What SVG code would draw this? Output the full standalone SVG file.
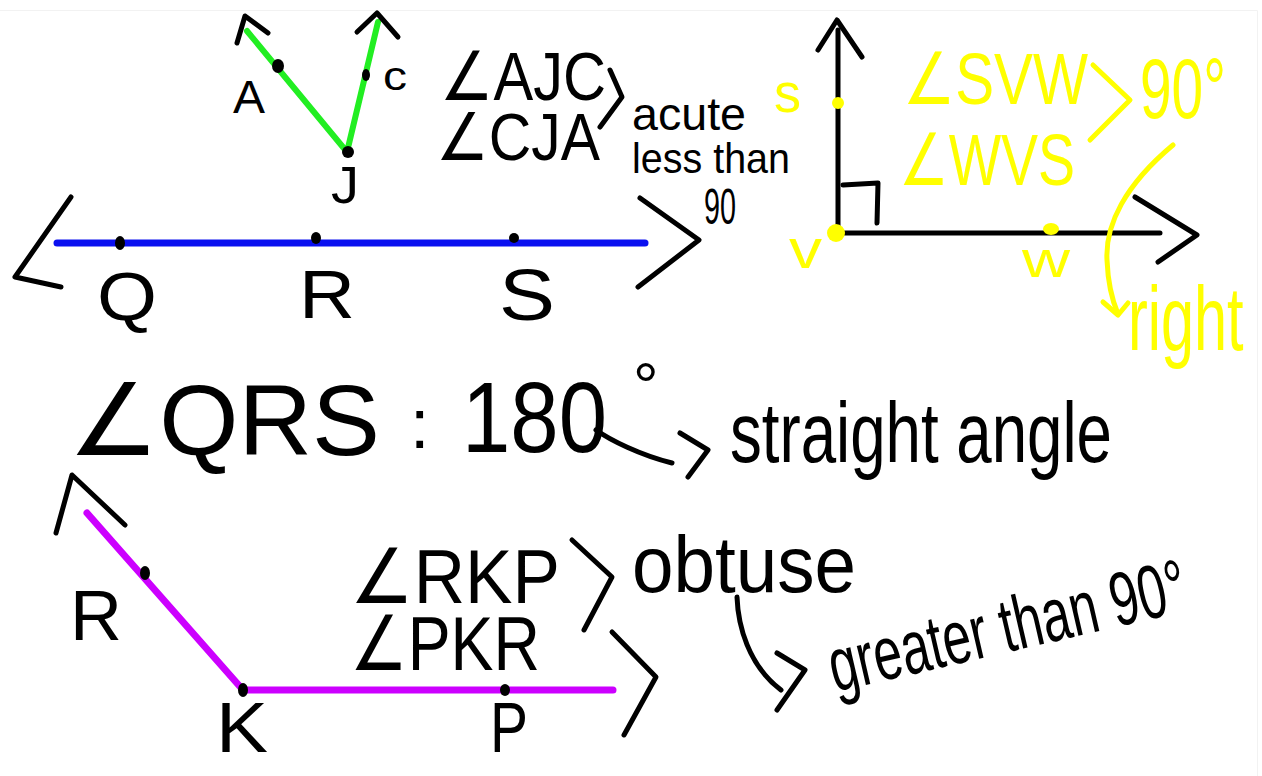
<svg xmlns="http://www.w3.org/2000/svg" width="1262" height="776" viewBox="0 0 1262 776">
<style>
.ink{fill:none;stroke:#000;stroke-width:5;stroke-linecap:round;stroke-linejoin:round}
.yl{fill:none;stroke:#ffff00;stroke-width:5;stroke-linecap:round;stroke-linejoin:round}
.t{font-family:"Liberation Sans","DejaVu Sans",sans-serif;fill:#000}
.ty{font-family:"Liberation Sans","DejaVu Sans",sans-serif;fill:#ffff00}
.dot{fill:#000}
.ydot{fill:#ffff00}
</style>
<rect width="1262" height="776" fill="#fff"/>
<path d="M0 10.5H1257.5V776" fill="none" stroke="#f2f2f2" stroke-width="1"/>

<!-- acute angle AJC -->
<g id="acute-angle">
<path d="M247 31L347 152L378 22" fill="none" stroke="#22ee22" stroke-width="6" stroke-linecap="round" stroke-linejoin="round"/>
<path class="ink" d="M237 43L245 16L268 33"/>
<path class="ink" d="M357 32L377 13L398 37"/>
<ellipse class="dot" cx="278" cy="66" rx="6" ry="7"/>
<ellipse class="dot" cx="366" cy="75" rx="4" ry="6"/>
<ellipse class="dot" cx="348" cy="152" rx="6" ry="6"/>
<text class="t" x="233" y="113" font-size="46" textLength="32" lengthAdjust="spacingAndGlyphs">A</text>
<text class="t" x="383" y="90" font-size="40" textLength="24" lengthAdjust="spacingAndGlyphs">c</text>
<text class="t" x="331" y="203" font-size="52" textLength="28" lengthAdjust="spacingAndGlyphs">J</text>
<text class="t" x="440" y="100" font-size="68" textLength="166" lengthAdjust="spacingAndGlyphs">∠AJC</text>
<text class="t" x="436" y="160" font-size="66" textLength="164" lengthAdjust="spacingAndGlyphs">∠CJA</text>
<path class="ink" d="M610 70L622 97L600 127"/>
<text class="t" x="632" y="130" font-size="46" textLength="114" lengthAdjust="spacingAndGlyphs">acute</text>
<text class="t" x="632" y="173" font-size="42" textLength="158" lengthAdjust="spacingAndGlyphs">less than</text>
<text class="t" x="704" y="224" font-size="50" textLength="32" lengthAdjust="spacingAndGlyphs">90</text>
</g>

<!-- straight line QRS -->
<g id="straight-line">
<path d="M57 243H645" stroke="#0a10f0" stroke-width="7" stroke-linecap="round"/>
<path class="ink" d="M71 197L15 277L61 287"/>
<path class="ink" d="M640 198L699 240L638 287"/>
<ellipse class="dot" cx="120" cy="243" rx="5" ry="7"/>
<ellipse class="dot" cx="316" cy="238" rx="5" ry="6"/>
<ellipse class="dot" cx="514" cy="238" rx="5" ry="5"/>
<text class="t" x="97" y="320" font-size="68" textLength="60" lengthAdjust="spacingAndGlyphs">Q</text>
<text class="t" x="299" y="318" font-size="68" textLength="56" lengthAdjust="spacingAndGlyphs">R</text>
<text class="t" x="499" y="320" font-size="72" textLength="56" lengthAdjust="spacingAndGlyphs">S</text>
</g>

<!-- right angle SVW -->
<g id="right-angle">
<path class="ink" d="M838 30V233H1160" stroke-width="7"/>
<path class="ink" d="M818 50L837 20L862 57"/>
<path class="ink" d="M1135 197L1197 235L1158 262"/>
<path class="ink" d="M843 185L878 183L877 223" stroke-width="4"/>
<circle class="ydot" cx="838" cy="103" r="6"/>
<circle class="ydot" cx="836" cy="233" r="9"/>
<ellipse class="ydot" cx="1051" cy="229" rx="8" ry="6"/>
<text class="ty" x="774" y="112" font-size="56" textLength="27" lengthAdjust="spacingAndGlyphs">s</text>
<text class="ty" x="789" y="268" font-size="56" textLength="33" lengthAdjust="spacingAndGlyphs">v</text>
<text class="ty" x="1022" y="277" font-size="50" textLength="48" lengthAdjust="spacingAndGlyphs">w</text>
<text class="ty" x="903" y="104" font-size="72" textLength="185" lengthAdjust="spacingAndGlyphs">∠SVW</text>
<text class="ty" x="899" y="185" font-size="72" textLength="176" lengthAdjust="spacingAndGlyphs">∠WVS</text>
<path class="yl" d="M1093 65L1130 100L1090 140"/>
<text class="ty" font-size="86" transform="translate(1140 118) scale(0.66 1)">90°</text>
<path class="yl" d="M1173 145C1125 185 1105 225 1107 260C1108 285 1112 300 1118 314"/>
<path class="yl" d="M1103 302L1118 315L1128 303"/>
<text class="ty" font-size="90" transform="translate(1128 350) scale(0.66 1)">right</text>
</g>

<!-- straight angle statement -->
<g id="straight-angle">
<text class="t" x="68" y="455" font-size="100" textLength="312" lengthAdjust="spacingAndGlyphs">∠QRS</text>
<text class="t" x="410" y="448" font-size="70">:</text>
<text class="t" x="462" y="452" font-size="100" textLength="145" lengthAdjust="spacingAndGlyphs">180</text>
<text class="t" x="633" y="408" font-size="64">°</text>
<path class="ink" d="M596 430C610 440 640 455 672 463"/>
<path class="ink" d="M680 433L708 450L688 477"/>
<text class="t" x="730" y="462" font-size="86" textLength="382" lengthAdjust="spacingAndGlyphs">straight angle</text>
</g>

<!-- obtuse angle RKP -->
<g id="obtuse-angle">
<path d="M87 513L243 690H613" fill="none" stroke="#cc00ff" stroke-width="7" stroke-linecap="round" stroke-linejoin="round"/>
<path class="ink" d="M56 533L72 475L125 525"/>
<ellipse class="dot" cx="145" cy="573" rx="5" ry="7"/>
<ellipse class="dot" cx="243" cy="690" rx="5" ry="7"/>
<ellipse class="dot" cx="505" cy="690" rx="5" ry="6"/>
<text class="t" x="70" y="640" font-size="70" textLength="52" lengthAdjust="spacingAndGlyphs">R</text>
<text class="t" x="216" y="752" font-size="70" textLength="52" lengthAdjust="spacingAndGlyphs">K</text>
<text class="t" x="490" y="752" font-size="70" textLength="38" lengthAdjust="spacingAndGlyphs">P</text>
<text class="t" x="350" y="603" font-size="76" textLength="210" lengthAdjust="spacingAndGlyphs">∠RKP</text>
<text class="t" x="350" y="670" font-size="76" textLength="190" lengthAdjust="spacingAndGlyphs">∠PKR</text>
<path class="ink" d="M572 540L612 577L584 630"/>
<path class="ink" d="M612 632L656 677L624 735"/>
<text class="t" x="632" y="592" font-size="80" textLength="224" lengthAdjust="spacingAndGlyphs">obtuse</text>
<path class="ink" d="M737 597C738 625 748 665 781 690"/>
<path class="ink" d="M777 653L805 670L777 710"/>
<text class="t" font-size="76" transform="translate(835 692) rotate(-13) scale(0.67 1)">greater than 90°</text>
</g>
</svg>
